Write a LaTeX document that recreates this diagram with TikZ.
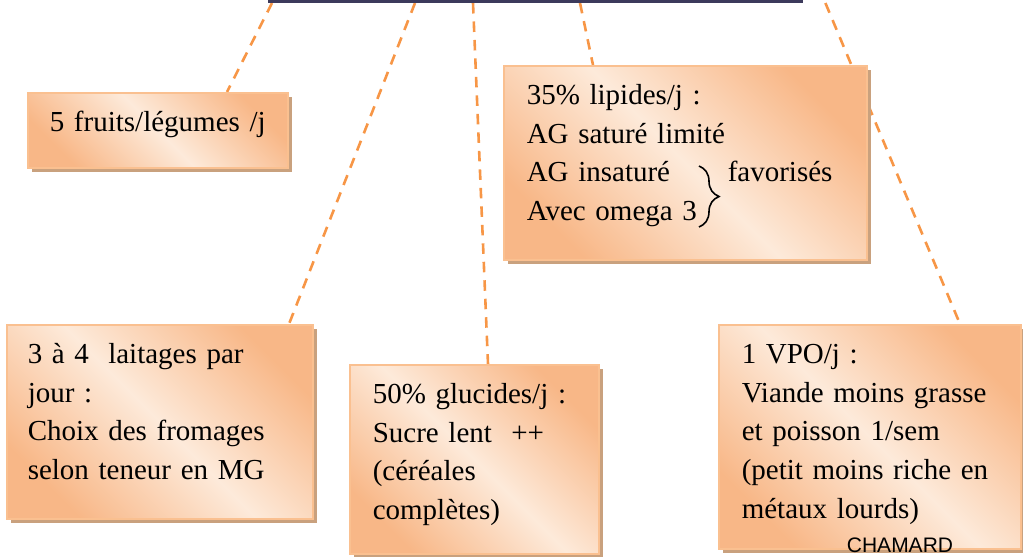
\documentclass[tikz,border=0pt]{standalone}
\usepackage{fontspec}
\setmainfont{Liberation Serif}
\newfontfamily\signfont{Liberation Sans}
\usepackage{tikz}
\usetikzlibrary{positioning, calc, shadows, backgrounds, decorations.pathreplacing}
\definecolor{titrebleu}{RGB}{60, 58, 92}
\definecolor{lienorange}{RGB}{247, 150, 70}
\definecolor{boxline}{RGB}{250, 192, 144}
\definecolor{boxdark}{RGB}{248, 183, 135}
\definecolor{boxlight}{RGB}{253, 234, 218}
\definecolor{boxshadow}{RGB}{201, 161, 126}
\newcommand{\corps}{\fontsize{29pt}{38.6pt}\selectfont}
\tikzset{
    conseil/.style={rectangle, anchor=north west, draw=boxline, line width=1.5pt,
                    top color=boxdark, bottom color=boxdark, middle color=boxlight,
                    shading angle=-45,
                    drop shadow={shadow xshift=4pt, shadow yshift=-4pt,
                                 fill=boxshadow, opacity=1},
                    align=left, inner xsep=23pt, inner ysep=12pt,
                    text height=27pt, font=\corps},
    lien/.style={draw=lienorange, line width=2.6pt, dash pattern=on 10.5pt off 8pt},
    titre/.style={rectangle, fill=titrebleu, anchor=south west,
                  minimum width=535pt, minimum height=40pt},
}

\begin{document}
\begin{tikzpicture}[x=1pt, y=-1pt]
    \path[use as bounding box, clip] (0,0) rectangle (1023,557);

    % Title box (cut at the top)
    \node[titre] (titre) at (268,3) {};

    % Advice boxes
    \node[conseil, align=center, inner xsep=10pt, text width=240pt,
          text depth=24pt] (fruits) at (27,92) {5 fruits/légumes /j};
    \node[conseil, text width=317pt, text depth=143pt] (lipides) at (503,65)
        {35\% lipides/j :\\AG saturé limité\\
         \makebox[201pt][l]{AG insaturé}favorisés\\Avec omega 3};
    \node[conseil, inner xsep=21pt, text width=264pt, text depth=143pt]
        (laitages) at (6,324)
        {3 à 4\ \ laitages par\\jour :\\Choix des fromages\\selon teneur en MG};
    \node[conseil, text width=203pt, text depth=138pt] (glucides) at (349,364)
        {50\% glucides/j :\\Sucre lent\ \ ++\\(céréales\\complètes)};
    \node[conseil, text width=256pt, text depth=173pt] (vpo) at (718,324)
        {1 VPO/j :\\Viande moins grasse\\et poisson 1/sem\\(petit moins riche en\\métaux lourds)};

    % Brace
    \draw[line width=1.6pt, decorate, decoration={brace, amplitude=20pt}]
        ($(lipides.north west)+(196,101)$) -- ($(lipides.north west)+(196,162)$);

    % Signature
    \node[font=\signfont\fontsize{21pt}{25pt}\selectfont, anchor=base]
        (signature) at (900,552) {CHAMARD};

    % Dashed links
    \begin{scope}[on background layer]
        \draw[lien] ($(titre.south west)+(4,0)$) -- ($(fruits.north west)+(200,0)$);
        \draw[lien] ($(titre.south west)+(147,0)$) -- ($(laitages.north west)+(283,0)$);
        \draw[lien] ($(titre.south west)+(205,0)$) -- ($(glucides.north west)+(139,0)$);
        \draw[lien] ($(titre.south west)+(312,0)$) -- ($(lipides.north west)+(90,0)$);
        \draw[lien] ($(titre.south east)+(22,0)$) -- ($(vpo.north west)+(242,0)$);
    \end{scope}
\end{tikzpicture}
\end{document}
